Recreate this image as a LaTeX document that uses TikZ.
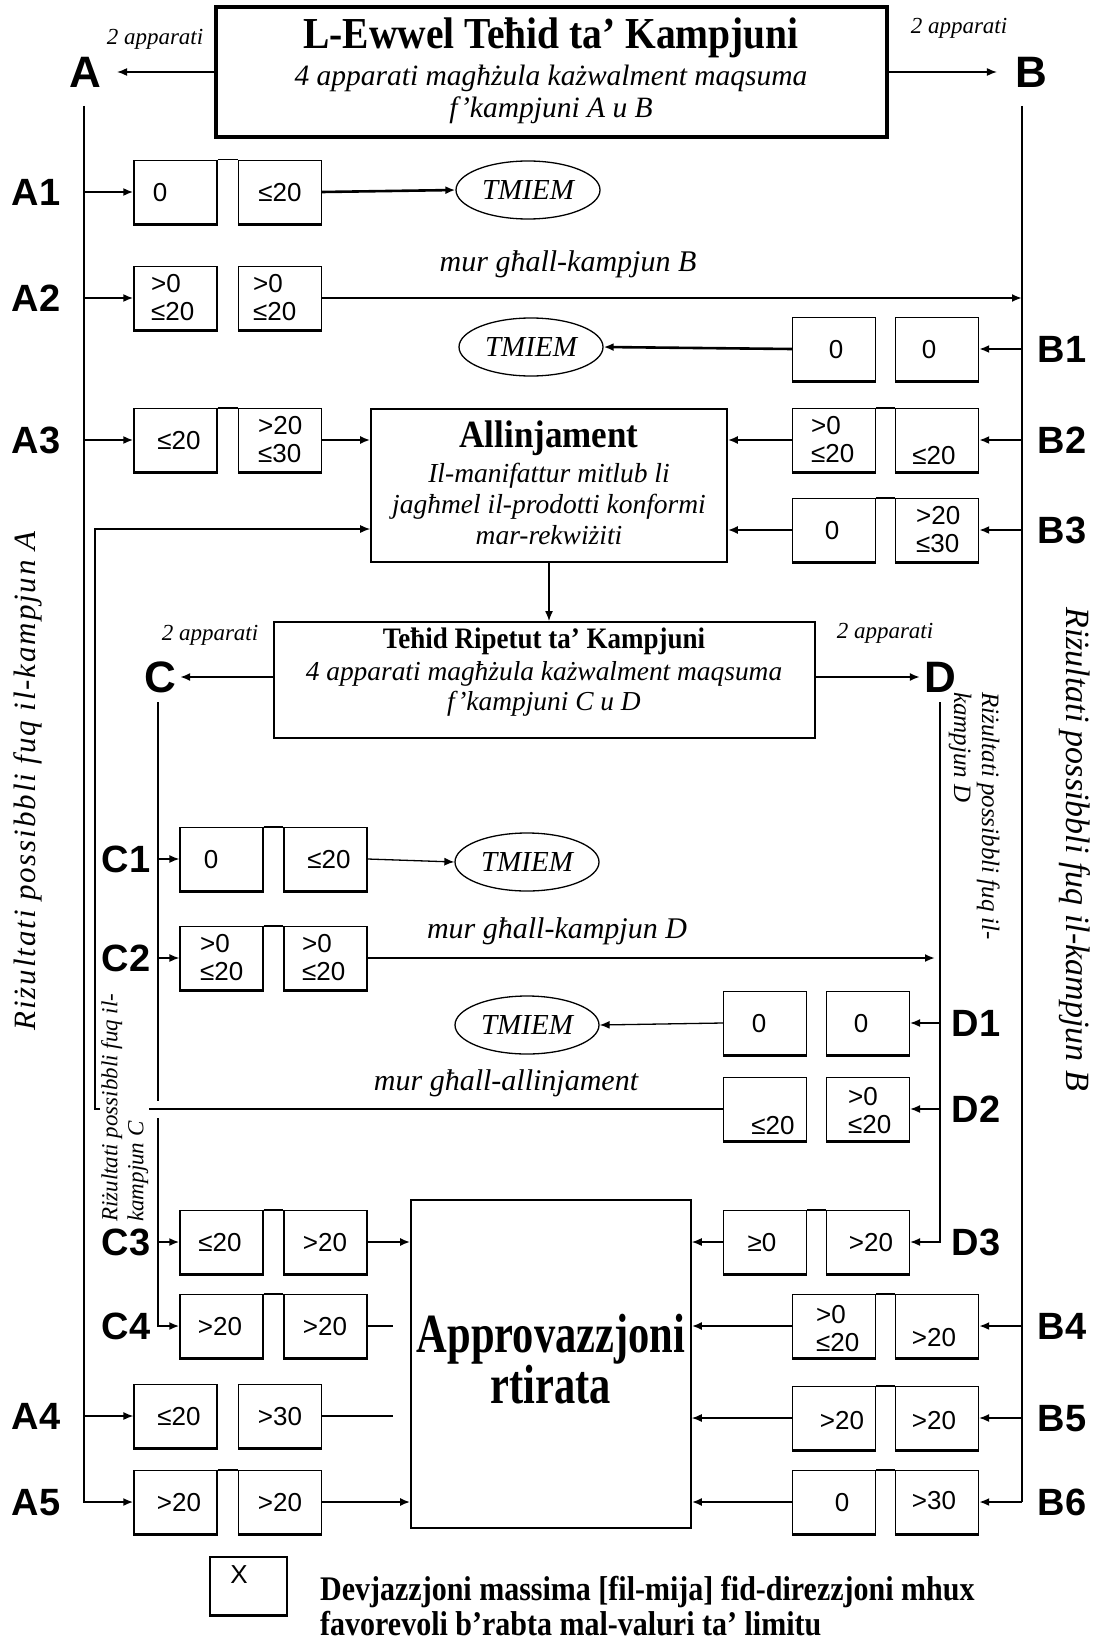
\documentclass[tikz,border=0pt]{standalone}
\usepackage{fontspec}
\setmainfont{Liberation Serif}
\setsansfont{Liberation Sans}
\usetikzlibrary{arrows.meta,shapes.geometric}
\begin{document}
\begin{tikzpicture}[x=1pt,y=-1pt,
  >={Latex[length=10pt,width=8pt]},
  bx/.style={draw,line width=1.3pt,minimum width=83pt,minimum height=63pt,inner sep=0pt},
  vt/.style={font=\sffamily\fontsize{26}{28}\selectfont,inner sep=0pt,text height=18.7pt,text depth=0pt},
  vtt/.style={font=\sffamily\fontsize{26}{28}\selectfont,inner sep=0pt,align=left,anchor=west},
  lab/.style={font=\sffamily\bfseries\fontsize{38}{40}\selectfont,inner sep=0pt,text height=27.4pt,text depth=0pt},
  big/.style={font=\sffamily\bfseries\fontsize{44}{46}\selectfont,inner sep=0pt,text height=31.7pt,text depth=0pt},
  app/.style={font=\itshape\fontsize{23}{25}\selectfont,inner sep=0pt,text height=16pt,text depth=5.8pt},
  mur/.style={font=\itshape\fontsize{30}{32}\selectfont,inner sep=0pt,text height=21pt,text depth=7.5pt},
  ital/.style={font=\itshape\fontsize{#1}{#1}\selectfont,inner sep=0pt,text height={0.7*#1pt},text depth={0.25*#1pt}},
  bld/.style={font=\bfseries\fontsize{#1}{#1}\selectfont,inner sep=0pt,text height={0.7*#1pt},text depth={0.25*#1pt}},
  endn/.style={draw,ellipse,line width=1.3pt,minimum width=144pt,minimum height=58pt,inner sep=0pt,font=\itshape\fontsize{29}{30}\selectfont},
  bigbox/.style={draw,line width=#1,inner sep=0pt},
  thk/.style={line width=2.6pt},
  thn/.style={line width=1.3pt},
  med/.style={line width=2pt},
]
\useasboundingbox (0,0) rectangle (1096,1645);

% ---------- title ----------
\node[bigbox=3.5pt,minimum width=671pt,minimum height=130pt] (title) at (551.5,72) {};
\node[bld=39.5] (t1) at (551,40) {\scalebox{1}[1.12]{L-Ewwel Teħid ta’ Kampjuni}};
\node[ital=29.5] (t2) at (551,79) {4 apparati magħżula każwalment maqsuma};
\node[ital=29.5] (t3) at (551,111) {f’kampjuni A u B};
\node[app] (appA) at (155,39) {2 apparati};
\node[app] (appB) at (959,28) {2 apparati};
\node[big] (A) at (85,72) {A};
\node[big] (B) at (1031,72) {B};
\draw[thn,->,shorten >=16pt] (title.west |- A) -- (A.east);
\draw[thn,->,shorten >=18pt] (title.east |- B) -- (B.west);
\coordinate (Atop) at (84,106);
\coordinate (Btop) at (1022,106);

% ---------- rotated side texts ----------
\node[rotate=90,inner sep=0pt,font=\itshape\fontsize{31}{33}\selectfont\addfontfeature{LetterSpace=6}] (rA) at (28,781) {Riżultati possibbli fuq il-kampjun A};
\node[rotate=-90,inner sep=0pt,font=\itshape\fontsize{34}{36}\selectfont] (rB) at (1075,849) {Riżultati possibbli fuq il-kampjun B};
\node[rotate=-90,inner sep=0pt,align=left,anchor=north west,font=\itshape\fontsize{25}{28}\selectfont] (rD) at (1000,692) {Riżultati possibbli fuq il-\\kampjun D};

% ---------- row A1 ----------
\node[bx] (a1l) at (175.5,192) {}; \node[bx] (a1r) at (280,192) {};
\node[vt] at (160,192) {0}; \node[vt] at (280,192) {≤20};
\node[lab] (A1) at (36,192) {A1};
\node[endn] (e1) at (528,190) {TMIEM};
\draw[thk,->] (a1l.west -| Atop) -- (a1l.west);
\draw[thk,->] (a1r.east) -- (e1.west);

% ---------- row A2 ----------
\node[bx] (a2l) at (175.5,298) {}; \node[bx] (a2r) at (280,298) {};
\node[vtt] at (151,298) {>0\\≤20}; \node[vtt] at (253,298) {>0\\≤20};
\node[lab] (A2) at (36,298) {A2};
\draw[thk,->] (a2l.west -| Atop) -- (a2l.west);
\draw[thk,->] (a2r.east) -- (a2r.east -| Btop);
\node[mur] (murB) at (568,265) {mur għall-kampjun B};

% ---------- row B1 ----------
\node[bx] (b1l) at (834,349) {}; \node[bx] (b1r) at (937,349) {};
\node[vt] at (836,349) {0}; \node[vt] at (929,349) {0};
\node[lab] (B1) at (1062,349) {B1};
\node[endn] (e2) at (531,347) {TMIEM};
\draw[thk,->] (b1r.east -| Btop) -- (b1r.east);
\draw[thk,->] (b1l.west) -- (e2.east);

% ---------- Allinjament ----------
\node[bigbox=1.6pt,minimum width=356pt,minimum height=153pt] (allin) at (549,485.5) {};
\node[bld=35] at (549,440) {\scalebox{1}[1.1]{Allinjament}};
\node[ital=27.5] at (549,476) {Il-manifattur mitlub li};
\node[ital=27.5] at (549,507) {jagħmel il-prodotti konformi};
\node[ital=27.5] at (549,538) {mar-rekwiżiti};

% ---------- row A3 ----------
\node[bx] (a3l) at (175.5,440) {}; \node[bx] (a3r) at (280,440) {};
\node[vt] at (179,440) {≤20}; \node[vtt] at (258,440) {>20\\≤30};
\node[lab] (A3) at (36,440) {A3};
\draw[thk,->] (a3l.west -| Atop) -- (a3l.west);
\draw[thk,->] (a3r.east) -- (a3r.east -| allin.west);

% ---------- row B2 ----------
\node[bx] (b2l) at (834,440) {}; \node[bx] (b2r) at (937,440) {};
\node[vtt] at (811,440) {>0\\≤20}; \node[vt] at (934,455) {≤20};
\node[lab] (B2) at (1062,440) {B2};
\draw[thk,->] (b2r.east -| Btop) -- (b2r.east);
\draw[thk,->] (b2l.west) -- (b2l.west -| allin.east);

% ---------- row B3 ----------
\node[bx] (b3l) at (834,530) {}; \node[bx] (b3r) at (937,530) {};
\node[vt] at (832,530) {0}; \node[vtt] at (916,530) {>20\\≤30};
\node[lab] (B3) at (1062,530) {B3};
\draw[thk,->] (b3r.east -| Btop) -- (b3r.east);
\draw[thk,->] (b3l.west) -- (b3l.west -| allin.east);

% ---------- repeated sampling ----------
\node[bigbox=2pt,minimum width=541pt,minimum height=116pt] (rep) at (544.5,680) {};
\node[bld=27] at (544,642) {\scalebox{1}[1.1]{Teħid Ripetut ta’ Kampjuni}};
\node[ital=27.4] at (544,674) {4 apparati magħżula każwalment maqsuma};
\node[ital=27.4] at (544,704) {f’kampjuni C u D};
\draw[thn,->] (allin.south) -- (allin.south |- rep.north);
\node[app] (appC) at (210,635) {2 apparati};
\node[app] (appD) at (885,633) {2 apparati};
\node[big] (C) at (160,677) {C};
\node[big] (D) at (940,677) {D};
\draw[thk,->,shorten >=4pt] (rep.west |- C) -- (C.east);
\draw[thk,->,shorten >=4pt] (rep.east |- D) -- (D.west);
\coordinate (Ctop) at (158,702);
\coordinate (Dtop) at (940,702);
\coordinate (cgapA) at (158,1101);
\coordinate (cgapB) at (158,1118);
\coordinate (retx) at (95,529);

% ---------- row C1 ----------
\node[bx] (c1l) at (221.5,859) {}; \node[bx] (c1r) at (325.5,859) {};
\node[vt] at (211,859) {0}; \node[vt] at (329,859) {≤20};
\node[lab] (C1) at (126,859) {C1};
\node[endn] (e3) at (527,862) {TMIEM};
\draw[thn,->] (c1l.west -| Ctop) -- (c1l.west);
\draw[thn,->] (c1r.east) -- (e3.west);

% ---------- row C2 ----------
\node[bx] (c2l) at (221.5,958) {}; \node[bx] (c2r) at (325.5,958) {};
\node[vtt] at (200,958) {>0\\≤20}; \node[vtt] at (302,958) {>0\\≤20};
\node[lab] (C2) at (126,958) {C2};
\draw[thn,->] (c2l.west -| Ctop) -- (c2l.west);
\draw[thk,->,shorten >=5pt] (c2r.east) -- (c2r.east -| Dtop);
\node[mur] (murD) at (557,932) {mur għall-kampjun D};

% ---------- row D1 ----------
\node[bx] (d1l) at (765,1023) {}; \node[bx] (d1r) at (868,1023) {};
\node[vt] at (759,1023) {0}; \node[vt] at (861,1023) {0};
\node[lab] (D1) at (976,1023) {D1};
\node[endn] (e4) at (527,1025) {TMIEM};
\draw[thn,->] (d1r.east -| Dtop) -- (d1r.east);
\draw[thn,->] (d1l.west) -- (e4.east);

% ---------- row D2 ----------
\node[bx] (d2l) at (765,1109) {}; \node[bx] (d2r) at (868,1109) {};
\node[vt] at (773,1125) {≤20}; \node[vtt] at (848,1111) {>0\\≤20};
\node[lab] (D2) at (976,1109) {D2};
\draw[thn,->] (d2r.east -| Dtop) -- (d2r.east);
\draw[thn,->] (d2l.west) -| (retx) -- (retx -| allin.west);
\node[mur] (murL) at (506,1084) {mur għall-allinjament};

% ---------- Approvazzjoni ----------
\node[bigbox=1.6pt,minimum width=280pt,minimum height=328pt] (apr) at (551,1364) {};
\node[inner sep=0pt,align=center,font=\bfseries\fontsize{42.5}{48}\selectfont] (aprtxt) at (551,1359) {\scalebox{1}[1.3]{Approvazzjoni}\\\scalebox{1}[1.3]{rtirata}};

% ---------- row C3 ----------
\node[bx] (c3l) at (221.5,1242) {}; \node[bx] (c3r) at (325.5,1242) {};
\node[vt] at (220,1242) {≤20}; \node[vt] at (325,1242) {>20};
\node[lab] (C3) at (126,1242) {C3};
\draw[med,->] (c3l.west -| Ctop) -- (c3l.west);
\draw[med,->] (c3r.east) -- (c3r.east -| apr.west);

% ---------- row D3 ----------
\node[bx] (d3l) at (765,1242) {}; \node[bx] (d3r) at (868,1242) {};
\node[vt] at (762,1242) {≥0}; \node[vt] at (871,1242) {>20};
\node[lab] (D3) at (976,1242) {D3};
\draw[thn,->] (Dtop) |- (d3r.east);
\draw[thn,->] (d3l.west) -- (d3l.west -| apr.east);

% ---------- row C4 ----------
\node[bx] (c4l) at (221.5,1326) {}; \node[bx] (c4r) at (325.5,1326) {};
\node[vt] at (220,1326) {>20}; \node[vt] at (325,1326) {>20};
\node[lab] (C4) at (126,1326) {C4};
\draw[med] (Ctop) -- (cgapA);
\draw[med,->] (cgapB) |- (c4l.west);
\coordinate (c4end) at (393,1326);
\draw[thk] (c4r.east) -- (c4end);

% ---------- row B4 ----------
\node[bx] (b4l) at (834,1326) {}; \node[bx] (b4r) at (937,1326) {};
\node[vtt] at (816,1329) {>0\\≤20}; \node[vt] at (934,1337) {>20};
\node[lab] (B4) at (1062,1326) {B4};
\draw[thk,->] (b4r.east -| Btop) -- (b4r.east);
\draw[thk,->] (b4l.west) -- (b4l.west -| apr.east);

% ---------- row A4 ----------
\node[bx] (a4l) at (175.5,1416) {}; \node[bx] (a4r) at (280,1416) {};
\node[vt] at (179,1416) {≤20}; \node[vt] at (280,1416) {>30};
\node[lab] (A4) at (36,1416) {A4};
\draw[thn,->] (a4l.west -| Atop) -- (a4l.west);
\coordinate (a4end) at (393,1416);
\draw[thn] (a4r.east) -- (a4end);

% ---------- row B5 ----------
\node[bx] (b5l) at (834,1418) {}; \node[bx] (b5r) at (937,1418) {};
\node[vt] at (842,1420) {>20}; \node[vt] at (934,1420) {>20};
\node[lab] (B5) at (1062,1418) {B5};
\draw[thn,->] (b5r.east -| Btop) -- (b5r.east);
\draw[thn,->] (b5l.west) -- (b5l.west -| apr.east);

% ---------- row A5 ----------
\node[bx] (a5l) at (175.5,1502) {}; \node[bx] (a5r) at (280,1502) {};
\node[vt] at (179,1502) {>20}; \node[vt] at (280,1502) {>20};
\node[lab] (A5) at (36,1502) {A5};
\draw[thk,->] (a5r.east) -- (a5r.east -| apr.west);

% ---------- row B6 ----------
\node[bx] (b6l) at (834,1502) {}; \node[bx] (b6r) at (937,1502) {};
\node[vt] at (842,1502) {0}; \node[vt] at (934,1500) {>30};
\node[lab] (B6) at (1062,1502) {B6};
\draw[thk,->] (b6l.west) -- (b6l.west -| apr.east);

% ---------- main vertical lines ----------
\draw[med,->] (Atop) |- (a5l.west);
\draw[thn] (Btop) -- (Btop |- b6r.east);
\draw[thk,->] (Btop |- b6r.east) -- (b6r.east);

% ---------- rotated C text (covers return line) ----------
\node[rotate=90,inner sep=1pt,fill=white,align=left,anchor=north west,font=\itshape\fontsize{23}{26}\selectfont] (rC) at (100,1223) {Riżultati possibbli fuq il-\\kampjun C};

% ---------- legend ----------
\node[bx,minimum width=77pt,minimum height=58pt] (leg) at (248.5,1586) {};
\node[vt] at (239,1574) {X};
\node[bld=30,anchor=west] (lg1) at (320,1594) {\scalebox{1}[1.15]{Devjazzjoni massima [fil-mija] fid-direzzjoni mhux}};
\node[bld=30,anchor=west] (lg2) at (320,1629) {\scalebox{1}[1.15]{favorevoli b’rabta mal-valuri ta’ limitu}};

% ---------- box decorations ----------
\foreach \n in {a1l,a1r,a2l,a2r,b1l,b1r,a3l,a3r,b2l,b2r,b3l,b3r,c1l,c1r,c2l,c2r,d1l,d1r,d2l,d2r,c3l,c3r,d3l,d3r,c4l,c4r,b4l,b4r,a4l,a4r,b5l,b5r,a5l,a5r,b6l,b6r,leg}
  \draw[line width=3pt] (\n.south west) -- (\n.south east);
\foreach \p/\q in {a1l/a1r,a3l/a3r,b2l/b2r,b3l/b3r,c1l/c1r,c2l/c2r,c3l/c3r,d3l/d3r,c4l/c4r,b4l/b4r,b5l/b5r,a5l/a5r,b6l/b6r}
  \draw[thn] (\p.north east) -- (\q.north west);
\end{tikzpicture}
\end{document}
